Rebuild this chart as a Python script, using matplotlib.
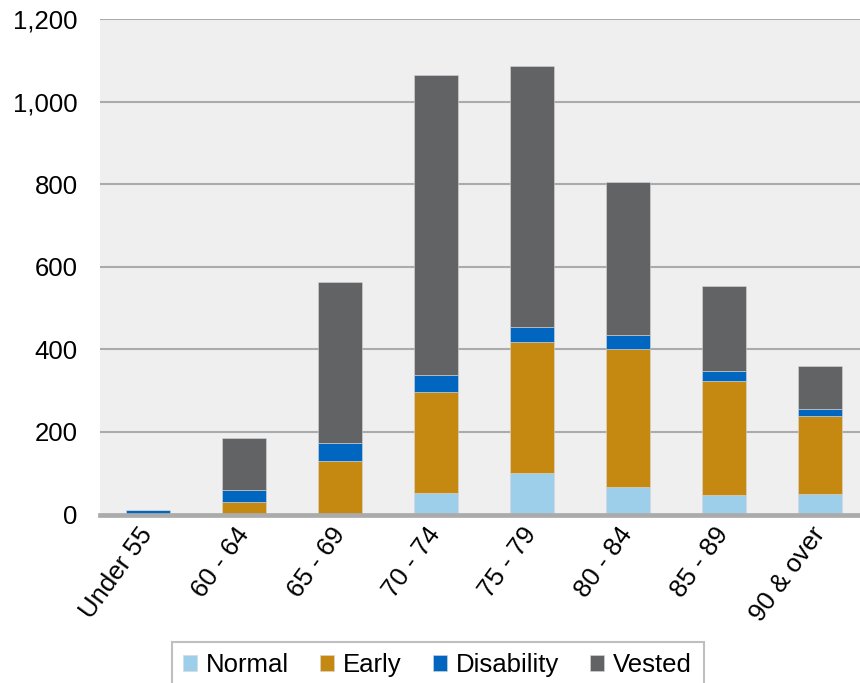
import matplotlib.pyplot as plt
import numpy as np

# === data ===
age_groups = ["Under 55", "60 - 64", "65 - 69", "70 - 74", "75 - 79", "80 - 84", "85 - 89", "90 & over"]
normal = [0, 0, 2, 53, 100, 67, 47, 50]
early = [0, 31, 128, 245, 319, 334, 276, 189]
disability = [10, 28, 44, 40, 35, 34, 25, 16]
vested = [0, 127, 390, 727, 633, 371, 205, 106]

series = [("Normal", normal, "#9DCFEA"),
          ("Early", early, "#C58912"),
          ("Disability", disability, "#0066C0"),
          ("Vested", vested, "#626365")]

plt.rcParams["font.family"] = ["Liberation Sans", "DejaVu Sans"]

W, H = 860, 683
fig = plt.figure(figsize=(W / 100, H / 100), dpi=100)
# axes run past the right edge, like the cropped original
ax = fig.add_axes([100 / W, (H - 514.5) / H, 760 / W, (514.5 - 19.3) / H])
ax.set_facecolor("#EFEFEF")

x = np.arange(len(age_groups))
bottom = np.zeros(len(age_groups))
handles = []
for name, vals, color in series:
    b = ax.bar(x, vals, 0.45, bottom=bottom, color=color, label=name,
               edgecolor="#D8D8D8", linewidth=0.4, zorder=3)
    handles.append(b)
    bottom += np.array(vals)

ax.set_xlim(-0.5, -0.5 + 760 / 96)
ax.set_ylim(0, 1200)
ax.set_yticks(range(0, 1201, 200))
ax.set_yticklabels([f"{v:,}" for v in range(0, 1201, 200)])
ax.yaxis.grid(True, color="#ABABAB", linewidth=1.5, zorder=1)
ax.axhline(0, color="#ABABAB", linewidth=3.4, zorder=4, clip_on=False)

ax.set_xticks(x)
ax.set_xticklabels(age_groups, rotation=54, ha="right", va="center",
                   rotation_mode="anchor")
ax.tick_params(axis="y", length=0, pad=16, labelsize=18.5)
ax.tick_params(axis="x", length=0, pad=11, labelsize=18.5)
for s in ax.spines.values():
    s.set_visible(False)

leg = fig.legend(handles=handles, loc="upper left", ncol=4,
                 bbox_to_anchor=(171.5 / W, (H - 641.5) / H),
                 fontsize=18.5, frameon=True, fancybox=False,
                 edgecolor="#B0B0B0", handlelength=0.55, handleheight=0.55,
                 handletextpad=0.35, columnspacing=1.2, borderpad=0.45,
                 borderaxespad=0)
leg.get_frame().set_linewidth(1.5)

fig.savefig("out.png", dpi=100)
